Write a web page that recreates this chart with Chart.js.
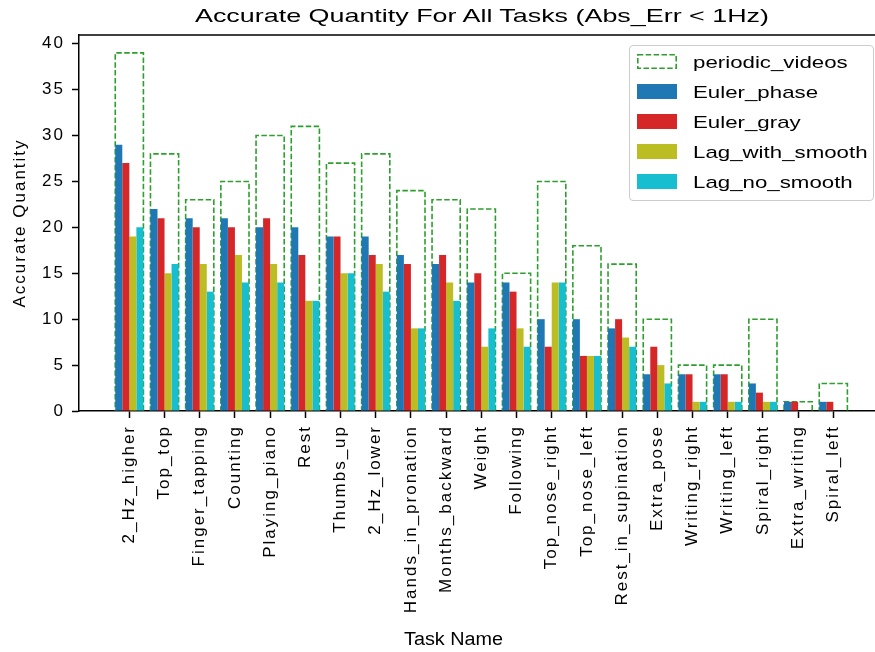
<!DOCTYPE html>
<html>
<head>
<meta charset="utf-8">
<script src="https://cdn.jsdelivr.net/npm/chart.js@4.4.1/dist/chart.umd.min.js"></script>
<style>
  body { margin: 0; background: #fff; font-family: "Liberation Sans", Arial, sans-serif; color: #000; }
  #wrap { position: relative; width: 875px; height: 652px; overflow: hidden; }
  #chart { position: absolute; left: 0; top: 0; }
  .label { position: absolute; white-space: nowrap; transform-origin: 0 0; }
  #title { left: 195px; top: 5.6px; font-size: 19px; line-height: 19px; transform: scaleX(1.415); }
  #xlabel { left: 404px; top: 630px; font-size: 18px; line-height: 18px; transform: scaleX(1.1); }
  #legend {
    position: absolute; left: 629px; top: 45px; width: 245px; height: 156px;
    box-sizing: border-box; border: 1px solid #cccccc; border-radius: 4px;
    background: rgba(255, 255, 255, 0.8);
  }
  .item { position: absolute; left: 7px; height: 30px; display: flex; align-items: center; }
  .swatch { width: 40px; height: 15px; margin-right: 16px; flex: none; }
  .item span {
    font-size: 17px; line-height: 17px; margin-top: 1px; white-space: nowrap;
    transform: scaleX(1.31); transform-origin: 0 50%;
  }
</style>
</head>
<body>
<div id="wrap">
  <canvas id="chart" width="900" height="652"></canvas>
  <div id="title" class="label">Accurate Quantity For All Tasks (Abs_Err &lt; 1Hz)</div>
  <div id="xlabel" class="label">Task Name</div>
  <div id="legend"></div>
</div>
<script>
const taskNames = [
  "2_Hz_higher", "Top_top", "Finger_tapping", "Counting", "Playing_piano",
  "Rest", "Thumbs_up", "2_Hz_lower", "Hands_in_pronation", "Months_backward",
  "Weight", "Following", "Top_nose_right", "Top_nose_left", "Rest_in_supination",
  "Extra_pose", "Writing_right", "Writing_left", "Spiral_right", "Extra_writing",
  "Spiral_left",
];
const periodicVideos = [39, 28, 23, 25, 30, 31, 27, 28, 24, 23, 22, 15, 25, 18, 16, 10, 5, 5, 10, 1, 3];
const eulerPhase     = [29, 22, 21, 21, 20, 20, 19, 19, 17, 16, 14, 14, 10, 10, 9, 4, 4, 4, 3, 1, 1];
const eulerGray      = [27, 21, 20, 20, 21, 17, 19, 17, 16, 17, 15, 13, 7, 6, 10, 7, 4, 4, 2, 1, 1];
const lagWithSmooth  = [19, 15, 16, 17, 16, 12, 15, 16, 9, 14, 7, 9, 14, 6, 8, 5, 1, 1, 1, 0, 0];
const lagNoSmooth    = [20, 16, 13, 14, 14, 12, 15, 13, 9, 12, 9, 7, 14, 6, 7, 3, 1, 1, 1, 0, 0];
const yTicks = [0, 5, 10, 15, 20, 25, 30, 35, 40];

const seriesNames = ["periodic_videos", "Euler_phase", "Euler_gray", "Lag_with_smooth", "Lag_no_smooth"];
const seriesValues = [periodicVideos, eulerPhase, eulerGray, lagWithSmooth, lagNoSmooth];
const seriesColors = ["#2ca02c", "#1f77b4", "#d62728", "#bcbd22", "#17becf"];

Chart.defaults.font.family = "'Liberation Sans', Arial, sans-serif";
Chart.defaults.color = "#000";

const toPoints = (vals) => vals.map((y, i) => ({ x: i, y: y }));

const datasets = seriesValues.map((vals, i) => {
  if (i === 0) {
    // outline only, drawn by the dashedOutline plugin below
    return {
      label: seriesNames[i],
      data: toPoints(vals),
      backgroundColor: "rgba(0,0,0,0)",
      borderWidth: 0,
      grouped: false,
      order: 1,
    };
  }
  return {
    label: seriesNames[i],
    data: toPoints(vals),
    backgroundColor: seriesColors[i],
    borderWidth: 0,
  };
});

// matplotlib text in the source is wider than plain Liberation Sans
const letterSpacing = {
  id: "letterSpacing",
  beforeUpdate(chart) { chart.ctx.letterSpacing = "2px"; },
  beforeDraw(chart) { chart.ctx.letterSpacing = "2px"; },
};

const dashedOutline = {
  id: "dashedOutline",
  beforeDatasetsDraw(chart) {
    const ctx = chart.ctx;
    const meta = chart.getDatasetMeta(0);
    ctx.save();
    ctx.strokeStyle = seriesColors[0];
    ctx.lineWidth = 1.6;
    ctx.setLineDash([5.5, 2.4]);
    meta.data.forEach((bar) => {
      const { x, y, base, width } = bar.getProps(["x", "y", "base", "width"], true);
      const left = x - width / 2;
      const right = x + width / 2;
      ctx.beginPath();
      ctx.moveTo(right, base);
      ctx.lineTo(right, y);
      ctx.lineTo(left, y);
      ctx.lineTo(left, base);
      ctx.stroke();
    });
    ctx.restore();
  },
};

const topSpine = {
  id: "topSpine",
  afterDraw(chart) {
    const { ctx, chartArea } = chart;
    ctx.save();
    ctx.strokeStyle = "#000";
    ctx.lineWidth = 1.5;
    ctx.beginPath();
    ctx.moveTo(chartArea.left, chartArea.top);
    ctx.lineTo(chartArea.right, chartArea.top);
    ctx.stroke();
    ctx.restore();
  },
};

new Chart(document.getElementById("chart"), {
  type: "bar",
  data: { datasets: datasets },
  options: {
    responsive: false,
    devicePixelRatio: 1,
    animation: false,
    layout: { padding: { top: 35, right: 16, bottom: 0, left: 0 } },
    datasets: {
      bar: { categoryPercentage: 0.8, barPercentage: 1 },
    },
    plugins: {
      legend: { display: false },
      tooltip: { enabled: false },
      title: { display: false },
    },
    scales: {
      x: {
        type: "linear",
        min: -1.43,
        max: 21.44,
        offset: false,
        z: 1,
        afterBuildTicks: (scale) => {
          scale.ticks = taskNames.map((_, i) => ({ value: i }));
        },
        afterFit: (scale) => { scale.height = 241; },
        ticks: {
          autoSkip: false,
          minRotation: 90,
          maxRotation: 90,
          padding: 7,
          font: { size: 17 },
          color: "#000",
          callback: (value) => taskNames[value],
        },
        grid: {
          offset: false,
          drawOnChartArea: false,
          tickLength: 7,
          tickWidth: 1.5,
          tickColor: "#000",
        },
        border: { color: "#000", width: 1.5 },
      },
      y: {
        min: 0,
        max: 40.95,
        z: 1,
        afterBuildTicks: (scale) => {
          scale.ticks = yTicks.map((v) => ({ value: v }));
        },
        afterFit: (scale) => { scale.width = 79; },
        ticks: { padding: 7, font: { size: 17 }, color: "#000" },
        grid: {
          drawOnChartArea: false,
          tickLength: 7,
          tickWidth: 1.5,
          tickColor: "#000",
        },
        border: { color: "#000", width: 1.5 },
        title: {
          display: true,
          text: "Accurate Quantity",
          font: { size: 17 },
          color: "#000",
          padding: { top: 10, bottom: 0 },
        },
      },
    },
  },
  plugins: [letterSpacing, dashedOutline, topSpine],
});

// legend box in the upper right, like the matplotlib one
const legend = document.getElementById("legend");
seriesNames.forEach((name, i) => {
  const item = document.createElement("div");
  item.className = "item";
  item.style.top = (0.5 + 30 * i) + "px";
  let swatch;
  if (i === 0) {
    swatch = document.createElementNS("http://www.w3.org/2000/svg", "svg");
    swatch.setAttribute("class", "swatch");
    swatch.setAttribute("width", "40");
    swatch.setAttribute("height", "15");
    swatch.innerHTML = '<rect x="0.8" y="0.8" width="38.4" height="13.4" fill="none" stroke="' +
      seriesColors[0] + '" stroke-width="1.6" stroke-dasharray="5.5 2.4"/>';
  } else {
    swatch = document.createElement("div");
    swatch.className = "swatch";
    swatch.style.background = seriesColors[i];
  }
  const text = document.createElement("span");
  text.textContent = name;
  item.appendChild(swatch);
  item.appendChild(text);
  legend.appendChild(item);
});
</script>
</body>
</html>
